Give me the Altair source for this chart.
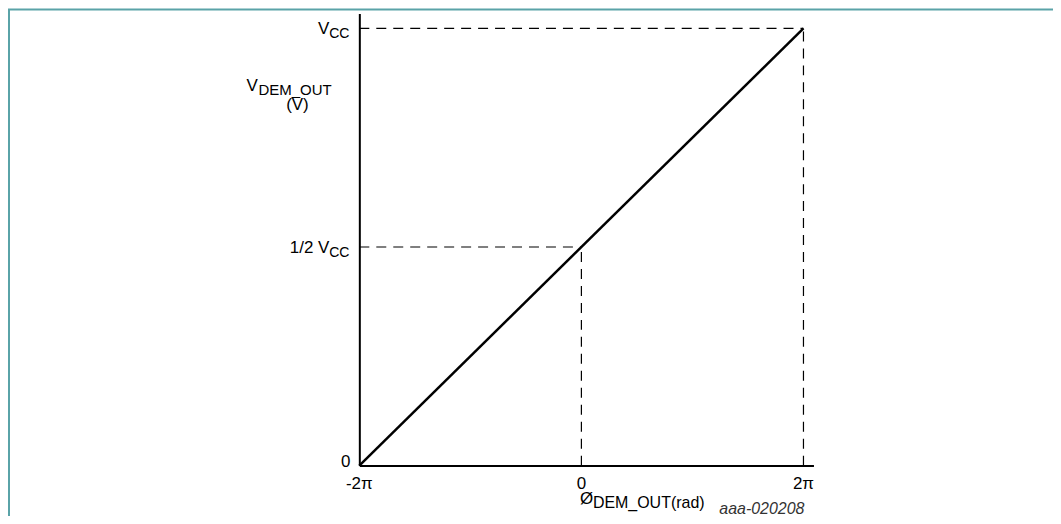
import altair as alt
import pandas as pd

# ---- data (x in units of pi, y in units of Vcc) ----
line_x = [-2, 2]
line_y = [0, 1]

guide_x1 = [-2, 2, -2, 0]
guide_x2 = [2, 2, 0, 0]
guide_y1 = [1, 0, 0.5, 0]
guide_y2 = [1, 1, 0.5, 0.5]

xtick_vals = [-2, 0, 2]
xtick_labels = ["-2π", "0", "2π"]

ytick_vals = [0, 0.5, 1]
ytick_main = ["0", "1/2 V", "V"]
ytick_sub = ["", "CC", "CC"]

FONT = "Liberation Sans"
MAIN = 17
SUB = 14

X_DOMAIN = [-2, 2.09]
Y_DOMAIN = [0, 1.034]

xs = alt.Scale(domain=X_DOMAIN, nice=False, zero=False)
ys = alt.Scale(domain=Y_DOMAIN, nice=False, zero=False)

line_df = pd.DataFrame({"x": line_x, "y": line_y})
guide_df = pd.DataFrame({"x": guide_x1, "x2": guide_x2, "y": guide_y1, "y2": guide_y2})
xt_df = pd.DataFrame({"v": xtick_vals, "label": xtick_labels})
yt_df = pd.DataFrame({"v": ytick_vals, "main": ytick_main, "sub": ytick_sub})

axis_common = dict(domainColor="black", domainWidth=2, ticks=False, labels=False,
                   grid=False, title=None)

guides = alt.Chart(guide_df).mark_rule(color="black", strokeWidth=1.2, strokeDash=[10, 7]).encode(
    x=alt.X("x:Q", scale=xs, axis=alt.Axis(**axis_common)),
    x2="x2:Q",
    y=alt.Y("y:Q", scale=ys, axis=alt.Axis(**axis_common)),
    y2="y2:Q",
)

main_line = alt.Chart(line_df).mark_line(color="black", strokeWidth=2.5).encode(
    x=alt.X("x:Q", scale=xs), y=alt.Y("y:Q", scale=ys)
)

xlab = alt.Chart(xt_df).mark_text(font=FONT, fontSize=MAIN, baseline="alphabetic", color="black").encode(
    x=alt.X("v:Q", scale=xs), y=alt.value(476), text="label:N"
)

# y tick labels (main part + subscript)
ysub = alt.Chart(yt_df).mark_text(font=FONT, fontSize=SUB, align="right", baseline="alphabetic", dy=10,
                                  color="black").encode(
    y=alt.Y("v:Q", scale=ys), x=alt.value(-10), text="sub:N"
)
ymain = alt.Chart(yt_df[yt_df["sub"] != ""]).mark_text(font=FONT, fontSize=MAIN, align="right",
                                                       baseline="alphabetic", dy=6, color="black").encode(
    y=alt.Y("v:Q", scale=ys), x=alt.value(-30), text="main:N"
)
yzero = alt.Chart(yt_df[yt_df["sub"] == ""]).mark_text(font=FONT, fontSize=MAIN, align="right",
                                                        baseline="alphabetic", dy=1, color="black").encode(
    y=alt.Y("v:Q", scale=ys), x=alt.value(-9), text="main:N"
)

# axis titles
ytitle_df = pd.DataFrame({"t": ["V"], "s": ["DEM_OUT"], "u": ["(V)"]})
yt1 = alt.Chart(ytitle_df).mark_text(font=FONT, fontSize=MAIN, align="left", baseline="alphabetic",
                                     color="black").encode(x=alt.value(-113), y=alt.value(78), text="t:N")
yt2 = alt.Chart(ytitle_df).mark_text(font=FONT, fontSize=SUB + 1, align="left", baseline="alphabetic",
                                     color="black").encode(x=alt.value(-101), y=alt.value(82), text="s:N")
yt3 = alt.Chart(ytitle_df).mark_text(font=FONT, fontSize=MAIN, align="center", baseline="alphabetic",
                                     color="black").encode(x=alt.value(-62), y=alt.value(97), text="u:N")

xtitle_df = pd.DataFrame({"t": ["Ø"], "s": ["DEM_OUT(rad)"]})
xt1 = alt.Chart(xtitle_df).mark_text(font=FONT, fontSize=MAIN, align="left", baseline="alphabetic",
                                     color="black").encode(x=alt.value(221), y=alt.value(491), text="t:N")
xt2 = alt.Chart(xtitle_df).mark_text(font=FONT, fontSize=SUB + 2, align="left", baseline="alphabetic",
                                     color="black").encode(x=alt.value(234), y=alt.value(495), text="s:N")

code_df = pd.DataFrame({"t": ["aaa-020208"]})
code = alt.Chart(code_df).mark_text(font=FONT, fontSize=16, fontStyle="italic", align="right",
                                    baseline="alphabetic", color="#333").encode(
    x=alt.value(446), y=alt.value(501), text="t:N")

# outer frame
frame = alt.Chart(code_df).mark_rect(fill=None, stroke="#5aa3a8", strokeWidth=2).encode(
    x=alt.value(-351), x2=alt.value(698), y=alt.value(-4), y2=alt.value(520)
)

chart = alt.layer(
    guides, main_line, xlab, ysub, ymain, yzero, yt1, yt2, yt3, xt1, xt2, code, frame
).properties(
    width=455, height=453,
    autosize=alt.AutoSizeParams(type="none"),
    padding={"left": 352, "top": 5, "right": 240, "bottom": 50},
).configure(background="white").configure_view(strokeOpacity=0)

chart.save("out.html", embed_options={"renderer": "svg", "actions": False})
